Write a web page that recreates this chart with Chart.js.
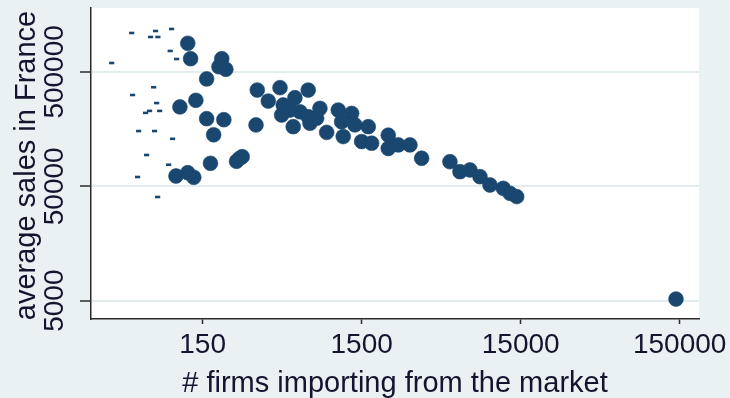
<!DOCTYPE html>
<html>
<head>
<meta charset="utf-8">
<script src="https://cdn.jsdelivr.net/npm/chart.js@4/dist/chart.umd.min.js"></script>
<style>
  html, body { margin: 0; padding: 0; background: #e9f1f3; }
  #wrap { width: 730px; height: 398px; }
  canvas { display: block; }
</style>
</head>
<body>
<div id="wrap"><canvas id="chart" width="730" height="398"></canvas></div>
<script>
// Axis ticks and titles
const xTickValues = [150, 1500, 15000, 150000];
const yTickValues = [5000, 50000, 500000];
const xTitle = '# firms importing from the market';
const yTitle = 'average sales in France';

// Markets served by few importing firms (small dash markers)
const smallFirms = [53.7, 70.6, 75.9, 78.5, 95.7, 93.8, 103, 40.2, 73.8, 54.4, 77.1,
                    69.6, 65.7, 80.5, 59.4, 74.8, 97.1, 66.7, 91.7, 58.5, 78.2];
const smallSales = [1094000, 1009000, 1139000, 1009000, 1186000, 762000, 648000, 598000,
                    367000, 314000, 267000, 228000, 219000, 228000, 152000, 152000,
                    130000, 93900, 77200, 60300, 40300];

// Remaining markets (large circles)
const bigFirms = [121, 126, 198, 190, 210, 159, 136, 108, 159, 204, 176, 266, 255, 245, 168,
                  102, 121, 132, 331, 460, 692, 388, 571, 482, 531, 471, 614, 692, 820, 782,
                  557, 710, 325, 904, 1069, 1298, 1123, 1149, 1361, 1651, 1500, 1734, 2205,
                  2205, 2549, 3019, 3576, 5388, 6229, 7200, 8325, 9619, 11660, 12850, 14160,
                  142200];
const bigSales = [889000, 652000, 652000, 555000, 527000, 434000, 282000, 247000, 195000,
                  191000, 141000, 90700, 87200, 82700, 79400, 61500, 65700, 59900, 347000,
                  364000, 347000, 278000, 297000, 257000, 232000, 210000, 224000, 203000,
                  240000, 197000, 166000, 178000, 172000, 148000, 232000, 217000, 183000,
                  136000, 172000, 166000, 123000, 119000, 140000, 107000, 115000, 115000,
                  87900, 82000, 67100, 69400, 60700, 51300, 48000, 43400, 40600, 5170];

const NAVY = '#1a476f';
const BG = '#e9f1f3';
const GRID = '#e3ecef';
const AXIS = '#2b2b2b';
const TEXT = '#14142e';
const FONT = '"Liberation Sans", Arial, sans-serif';

const toPoints = (xs, ys) => xs.map((x, i) => ({ x: x, y: ys[i] }));

// Panel colours: blue-grey surround, white plot region
const panelPlugin = {
  id: 'panel',
  beforeDraw(chart) {
    const { ctx, chartArea: a } = chart;
    ctx.save();
    ctx.fillStyle = BG;
    ctx.fillRect(0, 0, chart.width, chart.height);
    ctx.fillStyle = '#ffffff';
    ctx.fillRect(a.left, a.top, a.right - a.left, a.bottom - a.top);
    ctx.restore();
  }
};

// Vertical tick labels and both axis titles
const textPlugin = {
  id: 'axisText',
  afterDraw(chart) {
    const { ctx, chartArea: a } = chart;
    const ys = chart.scales.y;
    ctx.save();
    ctx.fillStyle = TEXT;
    ctx.textBaseline = 'alphabetic';
    ctx.textAlign = 'center';

    ctx.font = '28px ' + FONT;
    yTickValues.forEach(v => {
      const py = ys.getPixelForValue(v);
      ctx.save();
      ctx.translate(63, py);
      ctx.rotate(-Math.PI / 2);
      ctx.fillText(String(v), 0, 0);
      ctx.restore();
    });

    ctx.font = '29px ' + FONT;
    ctx.save();
    ctx.translate(35, (a.top + a.bottom) / 2 + 2);
    ctx.rotate(-Math.PI / 2);
    ctx.fillText(yTitle, 0, 0);
    ctx.restore();

    ctx.fillText(xTitle, (a.left + a.right) / 2, 392);
    ctx.restore();
  }
};

new Chart(document.getElementById('chart'), {
  type: 'scatter',
  data: {
    datasets: [
      {
        label: 'few importers',
        data: toPoints(smallFirms, smallSales),
        pointStyle: 'line',
        pointRadius: 2.6,
        pointBorderWidth: 2.6,
        borderColor: NAVY,
        backgroundColor: NAVY
      },
      {
        label: 'markets',
        data: toPoints(bigFirms, bigSales),
        pointStyle: 'circle',
        pointRadius: 7.4,
        pointBorderWidth: 0.6,
        borderColor: NAVY,
        backgroundColor: NAVY
      }
    ]
  },
  options: {
    responsive: false,
    devicePixelRatio: 1,
    animation: false,
    layout: { padding: { top: 8, right: 31, left: 0, bottom: 0 } },
    plugins: {
      legend: { display: false },
      tooltip: { enabled: false },
      title: { display: false }
    },
    scales: {
      x: {
        type: 'logarithmic',
        position: 'bottom',
        min: 29.8,
        max: 198400,
        afterBuildTicks: s => { s.ticks = xTickValues.map(v => ({ value: v })); },
        afterFit: s => { s.height = 79; s.paddingLeft = 0; s.paddingRight = 0; },
        border: { display: true, color: AXIS, width: 1.5 },
        grid: {
          drawOnChartArea: false,
          drawTicks: true,
          tickLength: 5,
          tickColor: AXIS,
          tickWidth: 1.5
        },
        ticks: {
          autoSkip: false,
          maxRotation: 0,
          minRotation: 0,
          padding: 4,
          color: TEXT,
          font: { family: FONT, size: 28 },
          callback: v => String(v)
        }
      },
      y: {
        type: 'logarithmic',
        position: 'left',
        min: 3459,
        max: 1809000,
        afterBuildTicks: s => { s.ticks = yTickValues.map(v => ({ value: v })); },
        afterFit: s => { s.width = 91; s.paddingTop = 0; s.paddingBottom = 0; },
        border: { display: true, color: AXIS, width: 1.5 },
        grid: {
          color: GRID,
          lineWidth: 2,
          drawTicks: true,
          tickLength: 11,
          tickColor: AXIS,
          tickWidth: 1.5
        },
        ticks: { display: false }
      }
    }
  },
  plugins: [panelPlugin, textPlugin]
});
</script>
</body>
</html>
